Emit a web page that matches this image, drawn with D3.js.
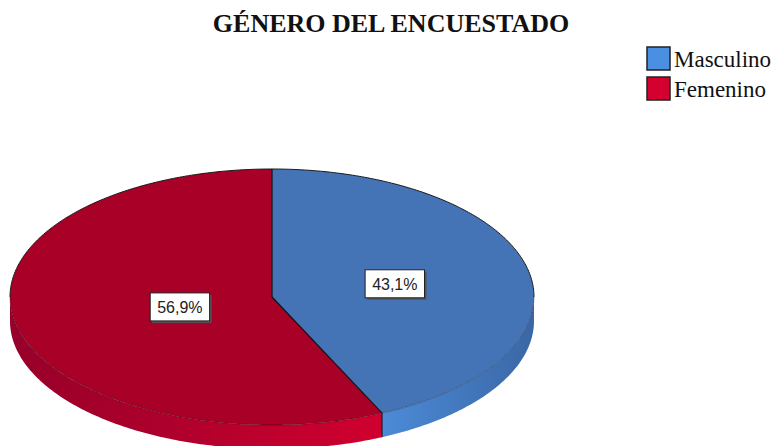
<!DOCTYPE html>
<html>
<head>
<meta charset="utf-8">
<script src="https://cdn.jsdelivr.net/npm/d3@7"></script>
<style>
  body { margin: 0; background: #fff; }
  svg { display: block; }
</style>
</head>
<body>
<svg id="chart"></svg>
<script>
var width = 782,
    height = 446;

// data
var categories = ["Masculino", "Femenino"];
var percents = [43.1, 56.9];
var labels = ["43,1%", "56,9%"];
var title = "GÉNERO DEL ENCUESTADO";

var topColors = ["#4473b6", "#a80026"],
    sideLight = ["#4c8bd8", "#d0002f"],
    sideDark = ["#3a67a5", "#96002a"],
    legendColors = ["#4a8fe2", "#d40030"];

// geometry of the tilted pie
var cx = 272, cy = 297, rx = 262, ry = 128, depth = 24;
var labelR = [0.48, 0.36];

var svg = d3.select("#chart")
    .attr("width", width)
    .attr("height", height);

var defs = svg.append("defs");

var pie = d3.pie().sort(null).value(function(d) { return d; });
var slices = pie(percents);

function px(a, k) { return cx + (k || 1) * rx * Math.sin(a); }
function py(a, k) { return cy - (k || 1) * ry * Math.cos(a); }

var line = d3.line();

function arcPoints(a0, a1, dy) {
  var n = Math.max(2, Math.ceil((a1 - a0) * 80));
  return d3.range(n + 1).map(function(i) {
    var a = a0 + (a1 - a0) * i / n;
    return [px(a), py(a) + (dy || 0)];
  });
}

function topPath(d) {
  return line([[cx, cy]].concat(arcPoints(d.startAngle, d.endAngle))) + "Z";
}

function sidePath(d) {
  var a0 = Math.max(d.startAngle, Math.PI / 2),
      a1 = Math.min(d.endAngle, Math.PI * 3 / 2);
  if (a1 <= a0) return null;
  var upper = arcPoints(a0, a1), lower = arcPoints(a0, a1, depth);
  return line(upper.concat(lower.reverse())) + "Z";
}

// gradients for the side walls: bright near the divider, darker towards the rim ends
slices.forEach(function(d, i) {
  var a0 = Math.max(d.startAngle, Math.PI / 2),
      a1 = Math.min(d.endAngle, Math.PI * 3 / 2);
  var g = defs.append("linearGradient")
      .attr("id", "side" + i)
      .attr("gradientUnits", "userSpaceOnUse")
      .attr("x1", px(a0)).attr("y1", 0)
      .attr("x2", px(a1)).attr("y2", 0);
  var stops = i === 0 ? [sideDark[i], sideLight[i]] : [sideLight[i], sideDark[i]];
  g.append("stop").attr("offset", "0%").attr("stop-color", stops[0]);
  g.append("stop").attr("offset", "100%").attr("stop-color", stops[1]);
});

var gPie = svg.append("g");

gPie.selectAll("path.side")
  .data(slices)
  .join("path")
    .attr("class", "side")
    .attr("d", sidePath)
    .attr("fill", function(d, i) { return "url(#side" + i + ")"; });

// dividing edge on the wall
slices.forEach(function(d) {
  var a = d.startAngle;
  if (a > Math.PI / 2 && a < Math.PI * 3 / 2) {
    gPie.append("line")
      .attr("x1", px(a)).attr("y1", py(a))
      .attr("x2", px(a)).attr("y2", py(a) + depth)
      .attr("stroke", "#111").attr("stroke-width", 1);
  }
});

gPie.selectAll("path.top")
  .data(slices)
  .join("path")
    .attr("class", "top")
    .attr("d", topPath)
    .attr("fill", function(d, i) { return topColors[i]; });

// rim: dark on the back half, faint on the front
gPie.append("path")
    .attr("d", line(arcPoints(-Math.PI / 2, Math.PI / 2)))
    .attr("fill", "none").attr("stroke", "#1a1a1a").attr("stroke-width", 1);
gPie.append("path")
    .attr("d", line(arcPoints(Math.PI / 2, Math.PI * 3 / 2)))
    .attr("fill", "none").attr("stroke", "rgba(0,0,0,0.3)").attr("stroke-width", 1);

// radial dividers
slices.forEach(function(d) {
  gPie.append("line")
    .attr("x1", cx).attr("y1", cy)
    .attr("x2", px(d.startAngle)).attr("y2", py(d.startAngle))
    .attr("stroke", "#111").attr("stroke-width", 1.2);
});

// percentage labels
var gLab = svg.append("g")
    .style("font-family", "'Liberation Sans', Arial, sans-serif")
    .style("font-size", "16px");

slices.forEach(function(d, i) {
  var a = (d.startAngle + d.endAngle) / 2,
      x = px(a, labelR[i]),
      y = py(a, labelR[i]);
  var t = gLab.append("text")
      .attr("x", x).attr("y", y)
      .attr("text-anchor", "middle")
      .attr("dy", "0.36em")
      .attr("fill", "#222")
      .text(labels[i]);
  var bb = t.node().getBBox();
  var w = bb.width + 14, h = 28;
  gLab.insert("rect", "text")
      .attr("x", x - w / 2 + 2).attr("y", y - h / 2 + 2)
      .attr("width", w).attr("height", h)
      .attr("fill", "#555");
  gLab.insert("rect", "text")
      .attr("x", x - w / 2).attr("y", y - h / 2)
      .attr("width", w).attr("height", h)
      .attr("fill", "#fff")
      .attr("stroke", "#222").attr("stroke-width", 1);
});

// title
svg.append("text")
    .attr("x", 391)
    .attr("y", 32)
    .attr("text-anchor", "middle")
    .style("font-family", "'Liberation Serif', 'Times New Roman', serif")
    .style("font-weight", "bold")
    .style("font-size", "26px")
    .attr("fill", "#111")
    .text(title);

// legend
var legend = svg.append("g")
    .attr("transform", "translate(647,47)");

var item = legend.selectAll("g")
  .data(categories)
  .join("g")
    .attr("transform", function(d, i) { return "translate(0," + i * 30 + ")"; });

item.append("rect")
    .attr("width", 23).attr("height", 23)
    .attr("fill", function(d, i) { return legendColors[i]; })
    .attr("stroke", "#222").attr("stroke-width", 1.5);

item.append("text")
    .attr("x", 27).attr("y", 20)
    .style("font-family", "'Liberation Serif', 'Times New Roman', serif")
    .style("font-size", "23px")
    .attr("fill", "#111")
    .text(function(d) { return d; });
</script>
</body>
</html>
